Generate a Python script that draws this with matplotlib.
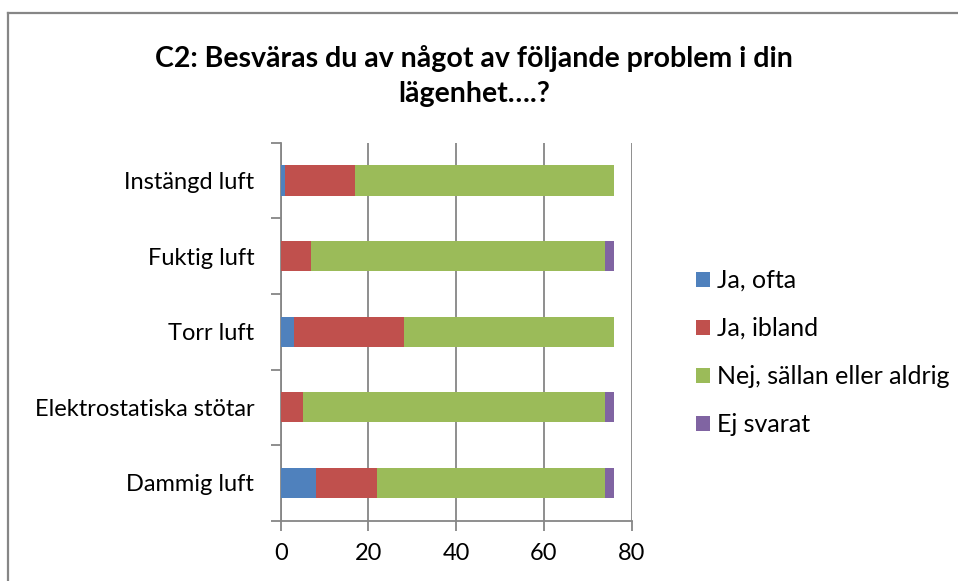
import matplotlib
matplotlib.use("Agg")
import matplotlib.pyplot as plt
from matplotlib.lines import Line2D
import numpy as np

categories = ["Dammig luft", "Elektrostatiska stötar", "Torr luft", "Fuktig luft", "Instängd luft"]
series_names = ["Ja, ofta", "Ja, ibland", "Nej, sällan eller aldrig", "Ej svarat"]
ja_ofta = [8, 0, 3, 0, 1]
ja_ibland = [14, 5, 25, 7, 16]
nej = [52, 69, 48, 67, 59]
ej_svarat = [2, 2, 0, 2, 0]
colors = ["#4F81BD", "#C0504D", "#9BBB59", "#8064A2"]
x_ticks = [0, 20, 40, 60, 80]
title = "C2: Besväras du av något av följande problem i din\nlägenhet….?"

plt.rcParams['font.family'] = ['Lato', 'DejaVu Sans']

W, H = 958, 581
fig = plt.figure(figsize=(W / 100, H / 100), dpi=100)
ax = fig.add_axes([280.7 / W, 1 - 520.7 / H, (631.7 - 280.7) / W, (520.7 - 142.7) / H])

y = np.arange(len(categories))
left = np.zeros(len(categories))
for vals, name, c in zip([ja_ofta, ja_ibland, nej, ej_svarat], series_names, colors):
    ax.barh(y, vals, left=left, height=0.4, color=c, label=name, zorder=3)
    left = left + np.array(vals)

ax.set_xlim(0, 80)
ax.set_ylim(-0.5, len(categories) - 0.5)
ax.set_xticks(x_ticks)
ax.set_xticklabels([str(t) for t in x_ticks])
ax.set_yticks(y)
ax.set_yticklabels(categories)
ax.set_yticks(np.arange(-0.5, len(categories), 1.0), minor=True)

gray = "#868686"
ax.grid(axis="x", color=gray, linewidth=1.3, zorder=0)
ax.set_axisbelow(True)
for s in ["top", "right"]:
    ax.spines[s].set_visible(False)
for s in ["left", "bottom"]:
    ax.spines[s].set_color(gray)
    ax.spines[s].set_linewidth(1.3)

ax.tick_params(axis="y", which="major", length=0, pad=19, labelsize=17)
ax.tick_params(axis="y", which="minor", length=7, width=1.3, color=gray, direction="out")
ax.tick_params(axis="x", which="major", length=7, width=1.3, color=gray, direction="out", pad=9, labelsize=17)

fig.text(474 / W, 1 - 76 / H, title, ha="center", va="center", fontsize=20.5, fontweight="bold",
         linespacing=1.4)

handles, labels = ax.get_legend_handles_labels()
leg = fig.legend(handles, labels, loc="upper left", bbox_to_anchor=(686 / W, 1 - 259 / H),
                 frameon=False, fontsize=18, handlelength=0.55, handleheight=0.55,
                 handletextpad=0.3, labelspacing=1.0, borderaxespad=0)

# outer chart border
fig.add_artist(Line2D([8 / W, 8 / W], [0, 1 - 13 / H], transform=fig.transFigure, color=gray, lw=1.6))
fig.add_artist(Line2D([8 / W, 1], [1 - 13 / H, 1 - 13 / H], transform=fig.transFigure, color=gray, lw=1.6))

fig.savefig("out.png", dpi=100)
